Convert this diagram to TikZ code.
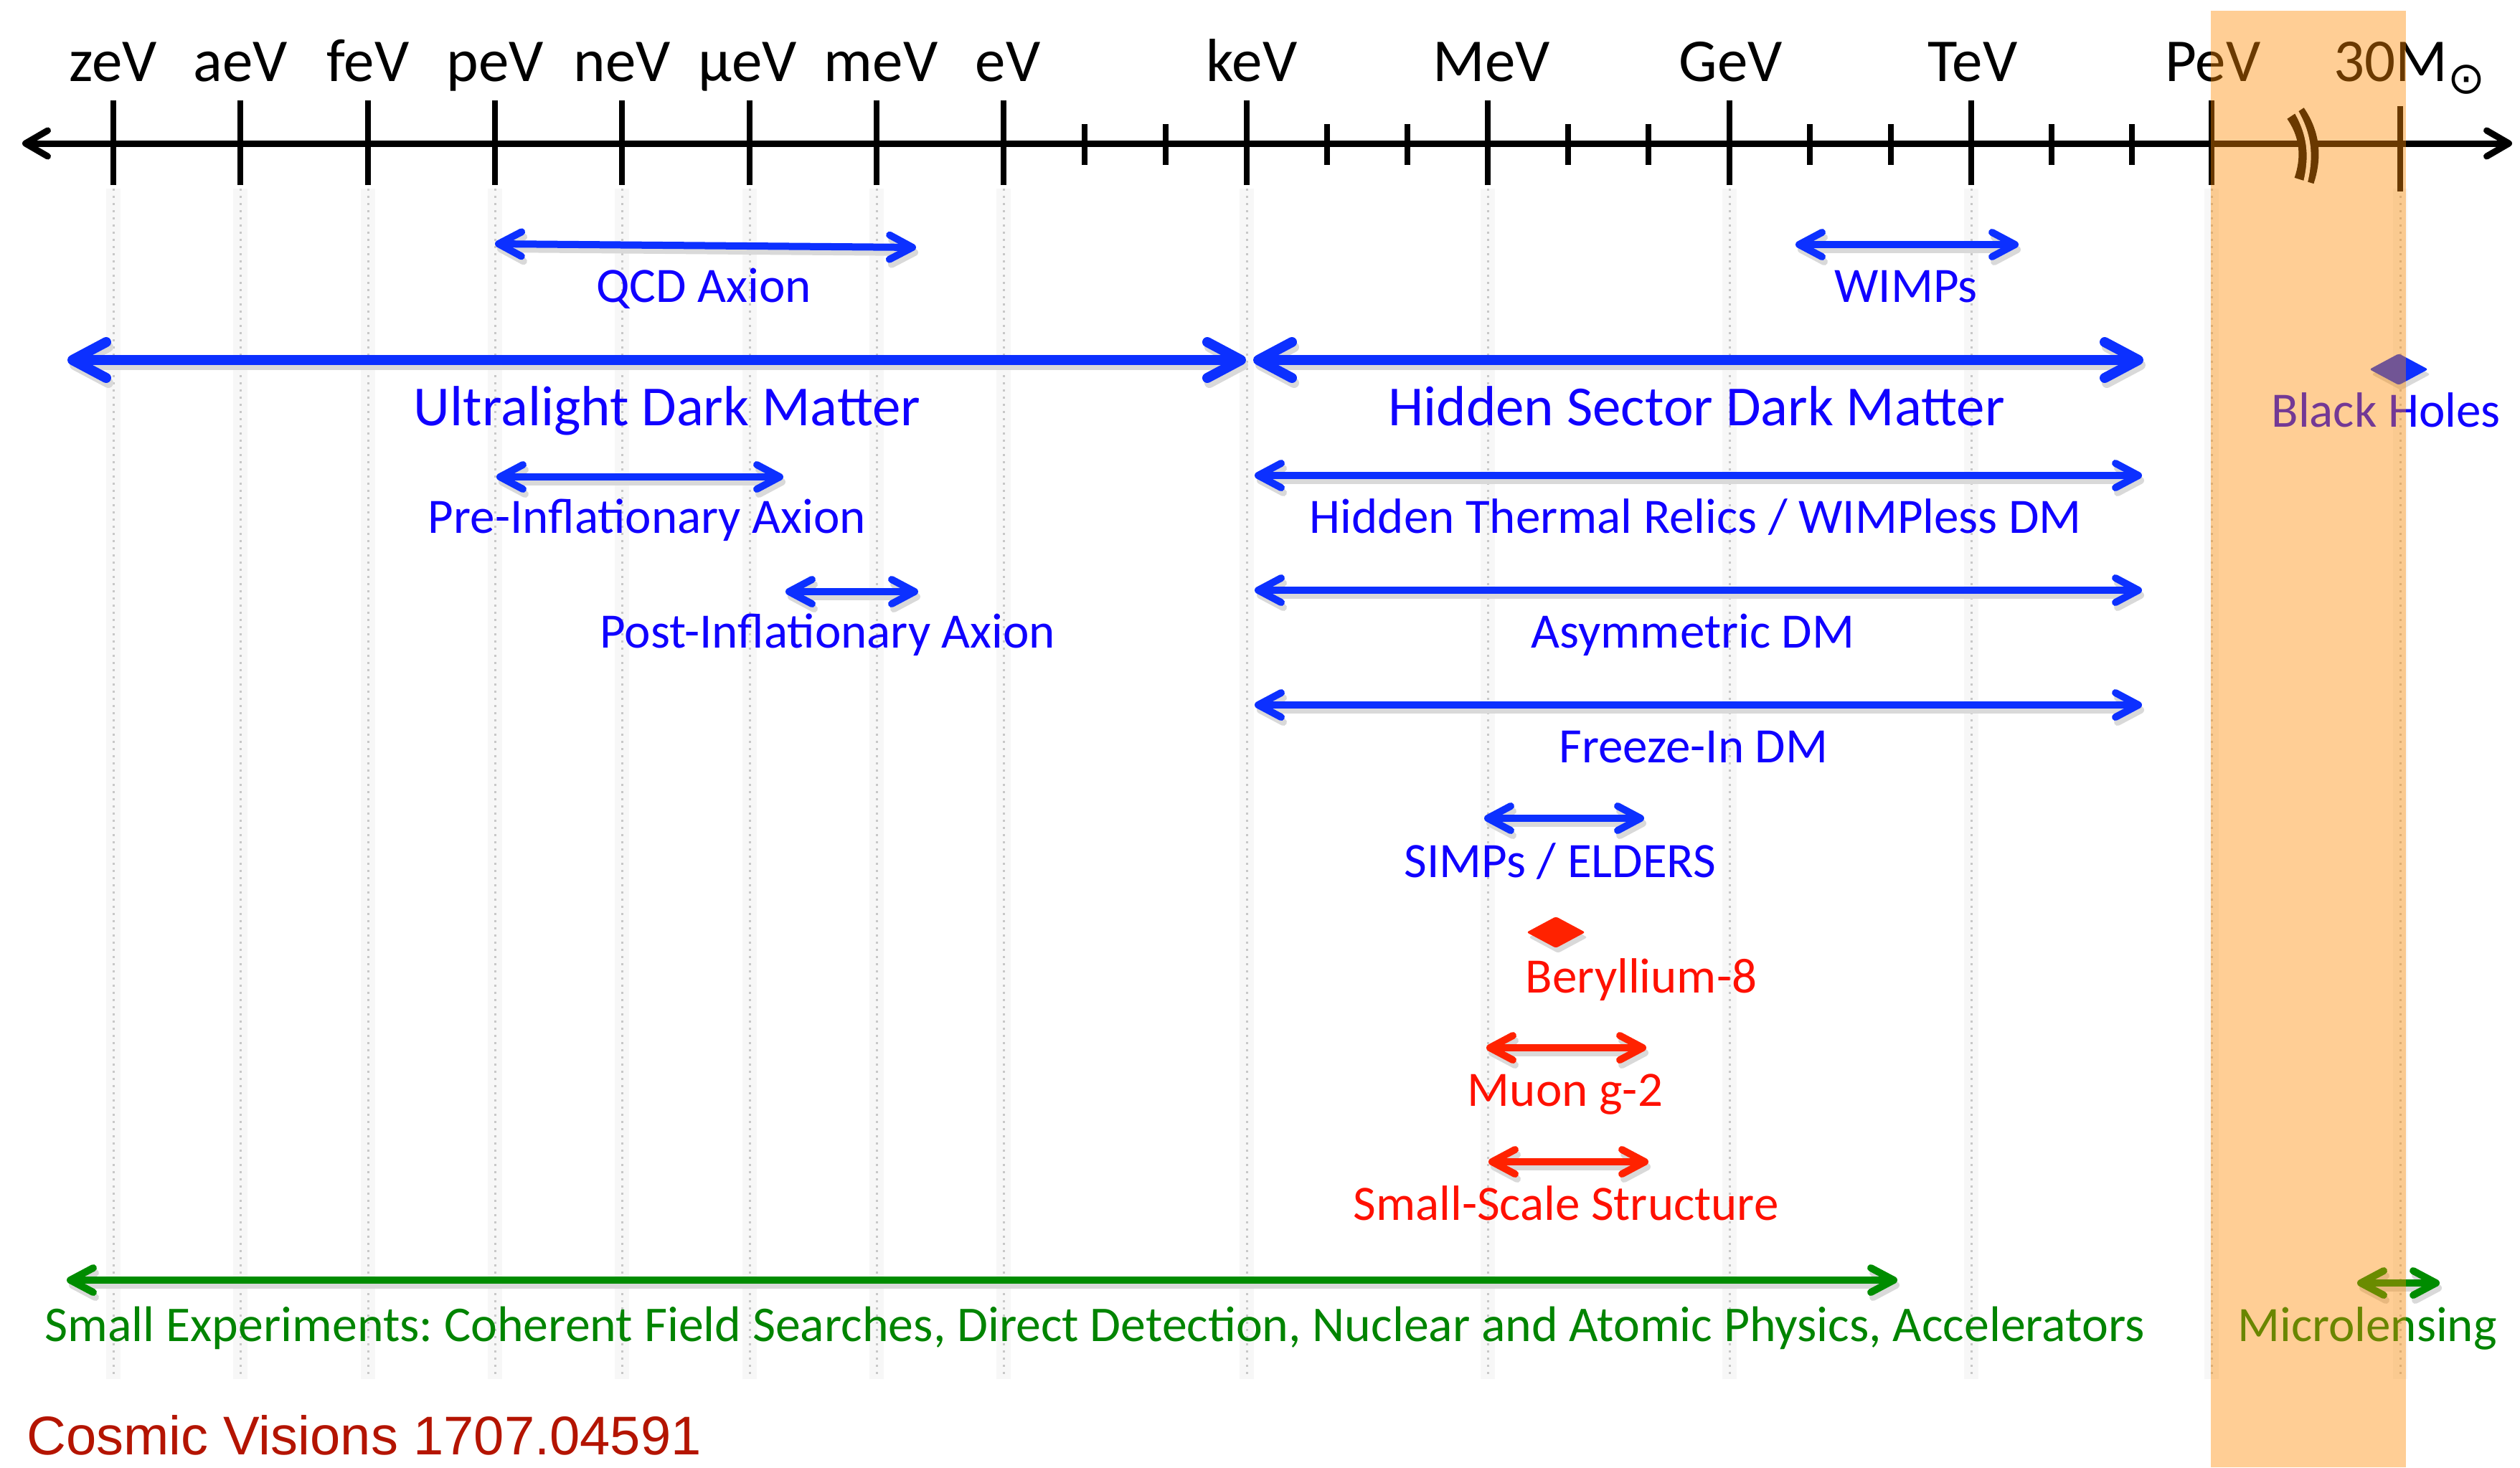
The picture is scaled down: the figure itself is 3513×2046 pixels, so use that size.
\documentclass[tikz,border=0pt]{standalone}
\usepackage{fontspec}
\setmainfont{Carlito}
\newfontfamily\arialfont{Liberation Sans}
\newfontfamily\dejavu{DejaVu Sans}
\usetikzlibrary{arrows.meta,shapes.geometric,shadows}
\definecolor{bandor}{RGB}{255,139,0}
\definecolor{arrblue}{RGB}{12,48,255}
\definecolor{txtblue}{RGB}{16,0,255}
\definecolor{arrred}{RGB}{255,34,0}
\definecolor{txtred}{RGB}{255,16,0}
\definecolor{arrgreen}{RGB}{0,140,0}
\definecolor{txtgreen}{RGB}{0,132,0}
\definecolor{cosmic}{RGB}{180,20,0}
\definecolor{gridgray}{RGB}{200,200,200}
\newcommand\sharrow[3]{\draw[#1,shad] (#2) -- (#3); \draw[#1] (#2) -- (#3);}
\frenchspacing
\begin{document}
\begin{tikzpicture}[x=1pt,y=-1pt,
  axl/.style={font=\fontsize{85}{100}\selectfont, anchor=base, inner sep=0pt, text=black},
  lab/.style={font=\fontsize{69}{80}\selectfont, anchor=base, inner sep=0pt},
  biglab/.style={font=\fontsize{79}{90}\selectfont, anchor=base, inner sep=0pt},
  gridline/.style={gridgray, line width=3pt, dash pattern=on 3pt off 7pt},
  gridglow/.style={black!3, line width=20pt},
  majtick/.style={line width=8pt},
  axisarr/.style={line width=9pt, >={Straight Barb[length=31pt,width=36pt,round]}, <->},
  bigarr/.style={line width=14pt, >={Straight Barb[length=47pt,width=50pt,round]}, <->},
  medarr/.style={line width=10pt, >={Straight Barb[length=32pt,width=34pt,round]}, <->},
  shad/.style={draw=black!15, transform canvas={shift={(3pt,-7pt)}}},
  dmd/.style={diamond, minimum width=82pt, minimum height=44pt, inner sep=0pt, rounded corners=3pt,
     general shadow={fill=black!15, shadow xshift=3pt, shadow yshift=-7pt}}
]
\useasboundingbox (0,0) rectangle (3513,2046);
\fill[white] (0,0) rectangle (3513,2046);

% grid lines
\foreach \x in {158,335,513,690,867,1045,1222,1399,1738,2074,2411,2748,3083,3346}{
  \draw[gridglow] (\x,263) -- (\x,1923);
  \draw[gridline] (\x,263) -- (\x,1923);
}

% axis
\coordinate (axL) at (31,200);
\coordinate (axR) at (3502,200);
\draw[axisarr] (axL) -- (axR);
\foreach \x in {158,335,513,690,867,1045,1222,1399,1738,2074,2411,2748,3083}{
  \draw[majtick] (\x,140) -- (\x,258);
}
\foreach \x in {1512,1625,1850,1962,2186,2298,2523,2636,2860,2972}{
  \draw[majtick] (\x,173) -- (\x,230);
}
\draw[majtick] (3346,148) -- (3346,267);
% axis break
\draw[line width=28pt] (3200,158) .. controls (3222,190) and (3222,222) .. (3212,252);
\draw[white, line width=6pt] (3199,152) .. controls (3222,190) and (3222,222) .. (3213,258);

% axis labels
\node[axl] (lzeV) at (158,113) {zeV};
\node[axl] (laeV) at (335,113) {aeV};
\node[axl] (lfeV) at (513,113) {feV};
\node[axl] (lpeV) at (690,113) {peV};
\node[axl] (lneV) at (867,113) {neV};
\node[axl] (lmueV) at (1042,113) {μeV};
\node[axl] (lmeV) at (1228,113) {meV};
\node[axl] (leV) at (1405,113) {eV};
\node[axl] (lkeV) at (1745,113) {keV};
\node[axl] (lMeV) at (2079,113) {MeV};
\node[axl] (lGeV) at (2413,113) {GeV};
\node[axl] (lTeV) at (2750,113) {TeV};
\node[axl] (lPeV) at (3085,113) {PeV};
\node[axl, anchor=base west] (l30M) at (3253,113) {30M{\dejavu\fontsize{62}{62}\selectfont\raisebox{-17pt}{⊙}}};

% coordinates of arrow ends
\coordinate (qcdL) at (690,340);   \coordinate (qcdR) at (1277,345);
\coordinate (wimL) at (2503,341);  \coordinate (wimR) at (2814,341);
\coordinate (ulL) at (94,502);     \coordinate (ulR) at (1737,502);
\coordinate (hsL) at (1747,502);   \coordinate (hsR) at (2988,502);
\coordinate (preL) at (692,665);   \coordinate (preR) at (1092,665);
\coordinate (htL) at (1749,663);   \coordinate (htR) at (2986,663);
\coordinate (postL) at (1095,825); \coordinate (postR) at (1280,825);
\coordinate (asL) at (1749,823);   \coordinate (asR) at (2986,823);
\coordinate (fiL) at (1749,983);   \coordinate (fiR) at (2986,983);
\coordinate (siL) at (2069,1141);  \coordinate (siR) at (2292,1141);
\coordinate (muL) at (2072,1461);  \coordinate (muR) at (2295,1461);
\coordinate (ssL) at (2075,1620);  \coordinate (ssR) at (2298,1620);
\coordinate (seL) at (93,1785);    \coordinate (seR) at (2645,1785);
\coordinate (mlL) at (3286,1789);  \coordinate (mlR) at (3401,1789);

% arrows
\sharrow{medarr,arrblue}{qcdL}{qcdR}
\sharrow{medarr,arrblue}{wimL}{wimR}
\sharrow{bigarr,arrblue}{ulL}{ulR}
\sharrow{bigarr,arrblue}{hsL}{hsR}
\sharrow{medarr,arrblue}{preL}{preR}
\sharrow{medarr,arrblue}{htL}{htR}
\sharrow{medarr,arrblue}{postL}{postR}
\sharrow{medarr,arrblue}{asL}{asR}
\sharrow{medarr,arrblue}{fiL}{fiR}
\sharrow{medarr,arrblue}{siL}{siR}
\sharrow{medarr,arrred}{muL}{muR}
\sharrow{medarr,arrred}{ssL}{ssR}
\sharrow{medarr,arrgreen}{seL}{seR}
\sharrow{medarr,arrgreen}{mlL}{mlR}

% diamonds
\node[dmd, fill=arrblue] (bhD) at (3344,515) {};
\node[dmd, fill=arrred] (beD) at (2169,1300) {};

% labels
\node[lab, text=txtblue] (tqcd) at (981,421) {QCD Axion};
\node[lab, text=txtblue] (twimp) at (2657,421) {WIMPs};
\node[biglab, text=txtblue] (tul) at (930,593) {Ultralight Dark Matter};
\node[biglab, text=txtblue] (ths) at (2365,593) {Hidden Sector Dark Matter};
\node[lab, text=txtblue] (tbh) at (3326,595) {Black Holes};
\node[lab, text=txtblue] (tpre) at (902,743) {Pre-Inflationary Axion};
\node[lab, text=txtblue] (tht) at (2364,743) {Hidden Thermal Relics / WIMPless DM};
\node[lab, text=txtblue] (tpost) at (1154,903) {Post-Inflationary Axion};
\node[lab, text=txtblue] (tas) at (2360,903) {Asymmetric DM};
\node[lab, text=txtblue] (tfi) at (2361,1063) {Freeze-In DM};
\node[lab, text=txtblue] (tsi) at (2175,1223) {SIMPs / ELDERS};
\node[lab, text=txtred] (tbe) at (2288,1384) {Beryllium-8};
\node[lab, text=txtred] (tmu) at (2182,1542) {Muon g-2};
\node[lab, text=txtred] (tss) at (2183,1701) {Small-Scale Structure};
\node[lab, font=\fontsize{69.8}{80}\selectfont, text=txtgreen] (tse) at (1526,1870) {Small Experiments: Coherent Field Searches, Direct Detection, Nuclear and Atomic Physics, Accelerators};
\node[lab, text=txtgreen] (tml) at (3300,1870) {Microlensing};
\node[font=\arialfont\fontsize{76}{90}\selectfont, anchor=base west, inner sep=0pt, text=cosmic] (tcv) at (37,2028) {Cosmic Visions 1707.04591};

% translucent band
\fill[bandor, opacity=0.416] (3082,15) rectangle (3354,2046);
\end{tikzpicture}
\end{document}
